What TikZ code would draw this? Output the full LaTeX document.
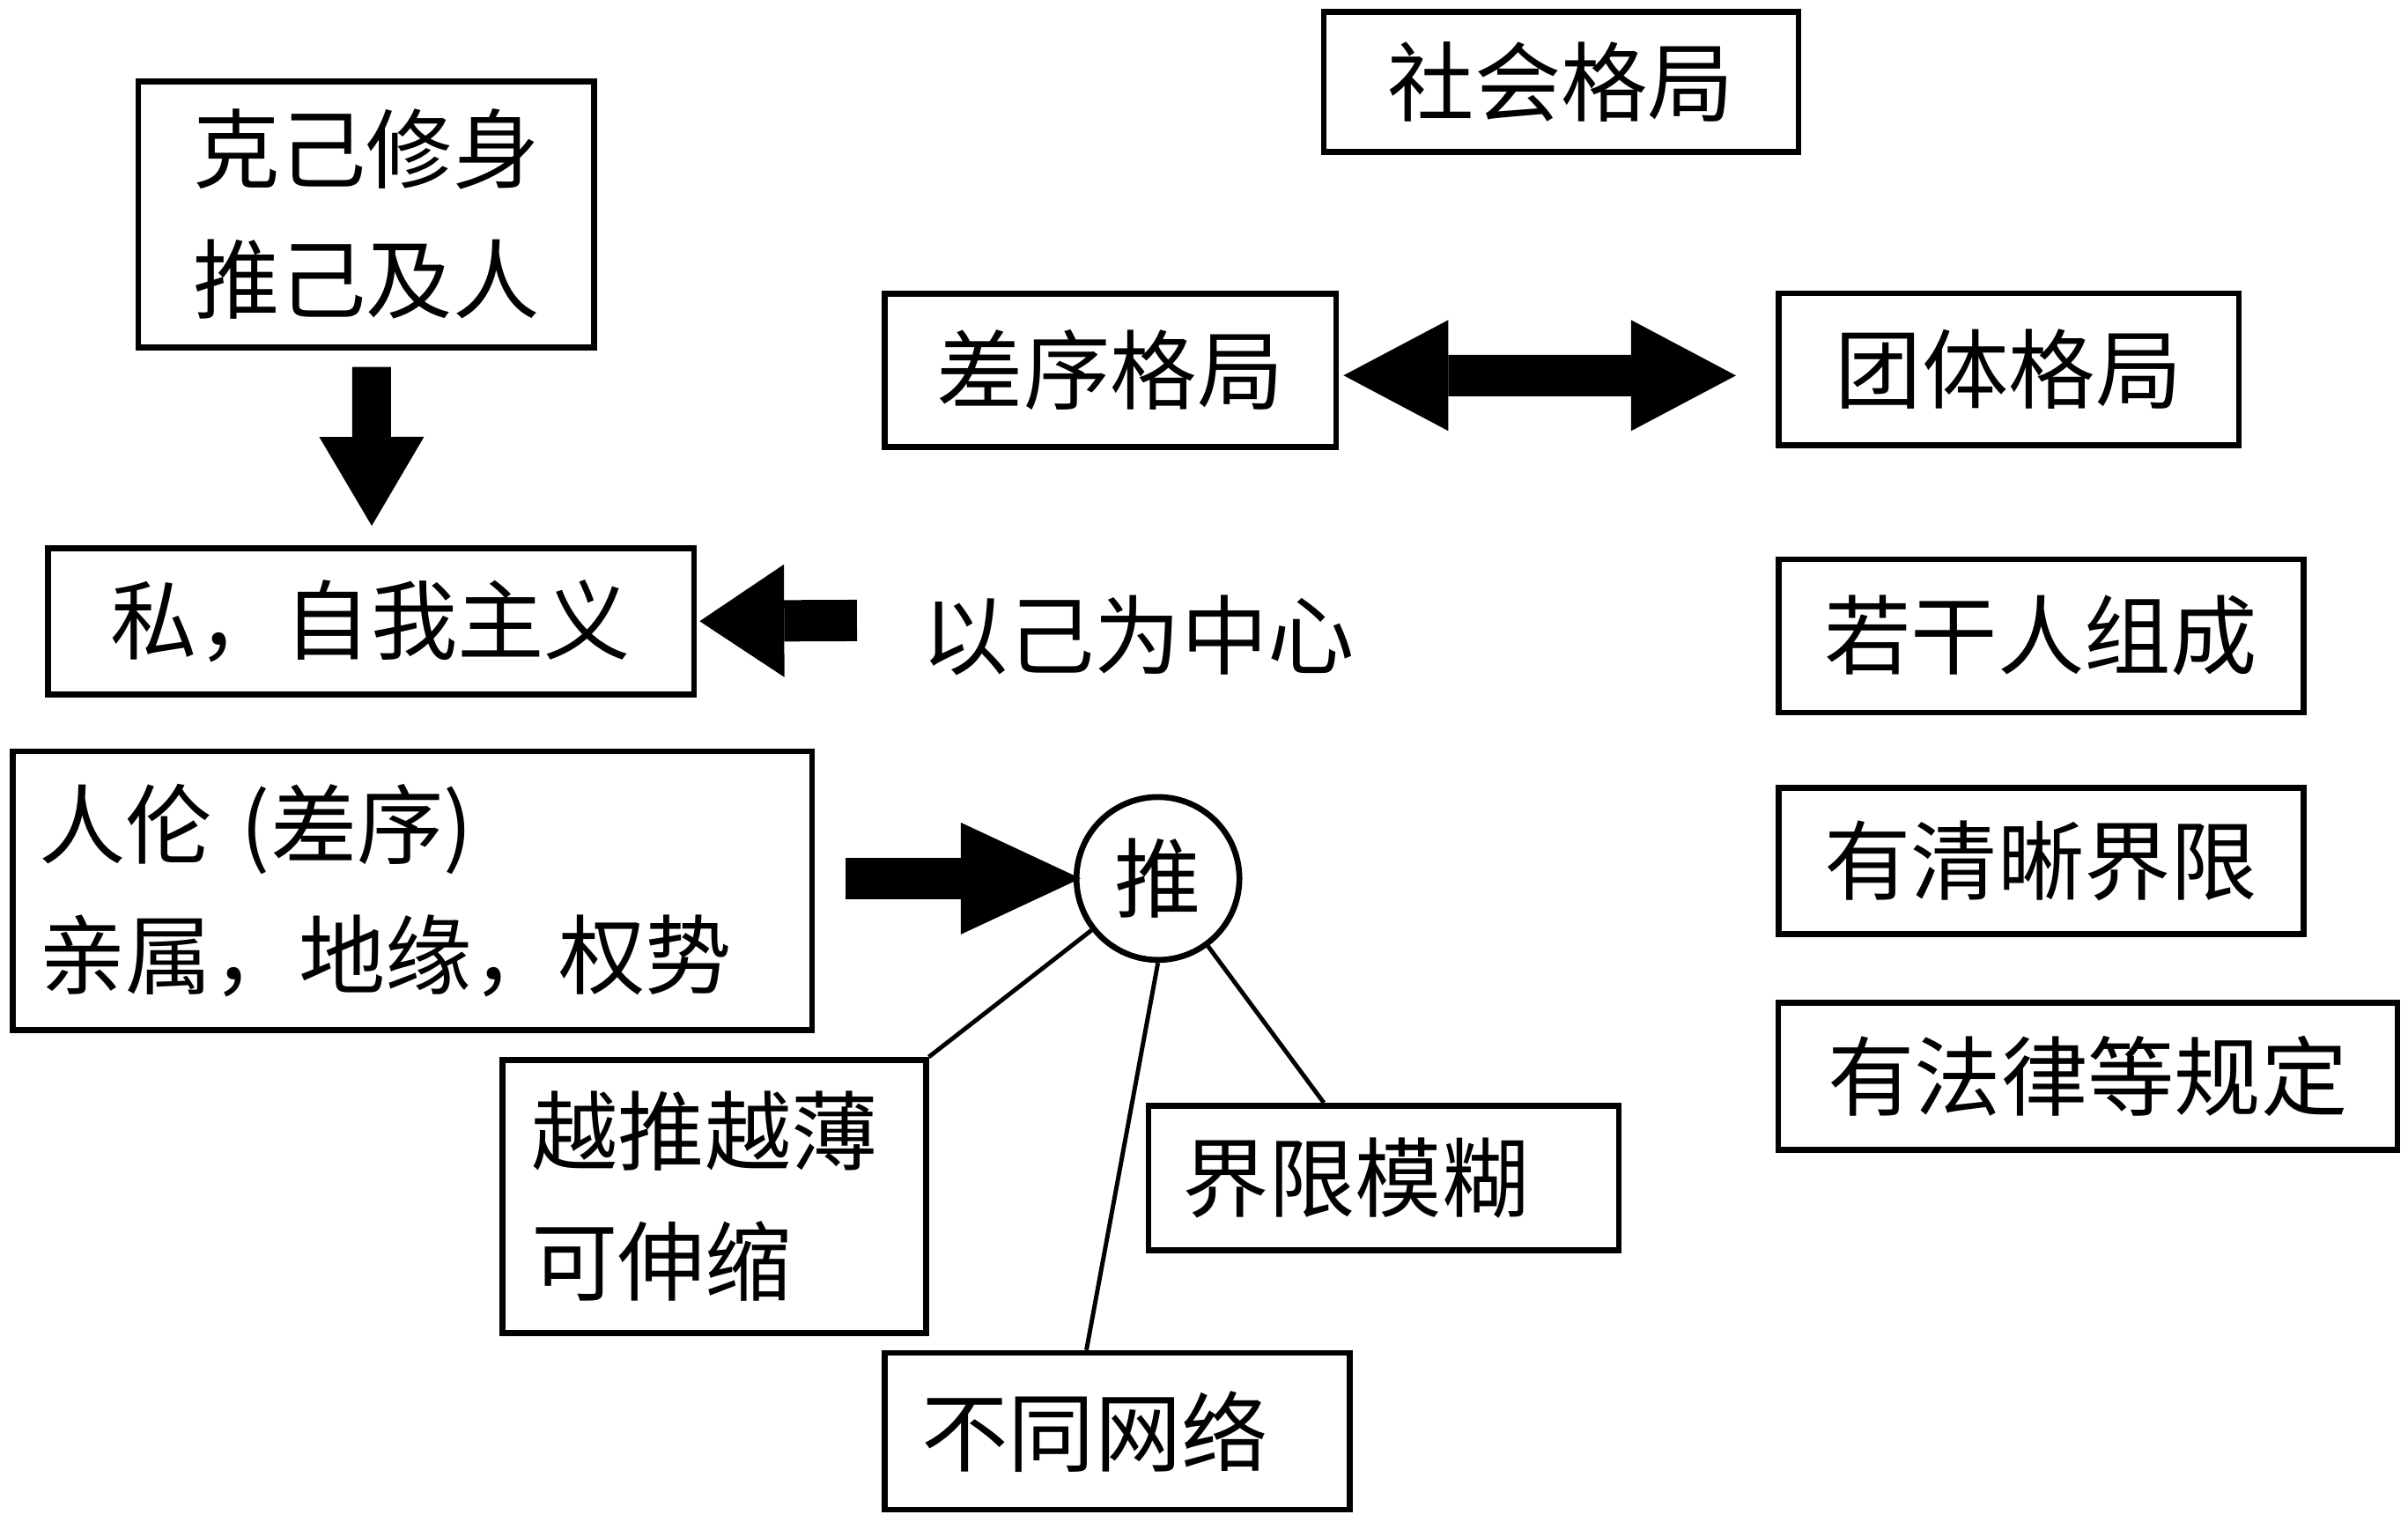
\documentclass[tikz,border=0pt]{standalone}
\usepackage{fontspec}
\setmainfont{Noto Sans CJK SC}
\usetikzlibrary{arrows.meta}
\begin{document}
\begin{tikzpicture}[x=0.017436cm, y=-0.017436cm,
  font=\fontsize{28}{42}\selectfont,
  box/.style={draw, line width=1.9pt, inner sep=0pt, align=center},
  lbox/.style={box, align=left},
  fat/.style={-{Triangle[line width=0pt 0 0, #1]}},
  link/.style={line width=1.4pt}]
  \useasboundingbox (0,0) rectangle (1568,991);
  % left side
  \node[box, minimum width=5.18cm, minimum height=3.02cm] (kj) at (238.5,139.5) {克己修身\\推己及人};
  \node[box, minimum width=7.34cm, minimum height=1.66cm] (si) at (241.5,404.5) {私，自我主义};
  \node (ego) at (741,414) {以己为中心};
  \node[lbox, text width=8.48cm, inner xsep=0.3cm, minimum height=3.17cm] (rl) at (268.5,580) {人伦\,\,(差序)\\亲属，地缘，权势};
  \node[draw, circle, line width=1.9pt, minimum size=1.85cm, inner sep=0pt] (tui) at (754,572) {推};
  \node[lbox, text width=4.15cm, inner xsep=0.33cm, minimum height=3.10cm] (yt) at (465,779) {越推越薄\\可伸缩};
  \node[lbox, text width=4.58cm, inner xsep=0.38cm, minimum height=1.64cm] (jx) at (901,767) {界限模糊};
  \node[lbox, text width=4.44cm, inner xsep=0.42cm, minimum height=1.78cm] (bt) at (727.5,932) {不同网络};
  % top and right side
  \node[box, minimum width=5.39cm, minimum height=1.59cm] (sh) at (1016.5,53.5) {社会格局};
  \node[box, minimum width=5.13cm, minimum height=1.74cm] (cx) at (723,241) {差序格局};
  \node[box, minimum width=5.23cm, minimum height=1.73cm] (tt) at (1308,240.5) {团体格局};
  \node[box, minimum width=5.96cm, minimum height=1.74cm] (rg) at (1329,414) {若干人组成};
  \node[box, minimum width=5.96cm, minimum height=1.66cm] (qx) at (1329,560.5) {有清晰界限};
  \node[box, minimum width=7.03cm, minimum height=1.67cm] (fl) at (1359.5,701) {有法律等规定};
  % block arrows
  \draw[fat={width=1.19cm, length=1.01cm}, line width=0.44cm, shorten <=0.19cm, shorten >=0.22cm]
    ([xshift=0.06cm]kj.south) -- ([xshift=0.01cm]si.north);
  \coordinate (pin) at (558,404);
  \draw[fat={width=1.28cm, length=0.96cm}, line width=0.47cm, shorten >=0.03cm] (pin) -- (si.east);
  \draw[fat={width=1.27cm, length=1.36cm}, line width=0.47cm, shorten <=0.35cm, shorten >=-0.08cm]
    (rl.east |- tui.west) -- (tui.west);
  \draw[{Triangle[line width=0pt 0 0, width=1.26cm, length=1.19cm]}-{Triangle[line width=0pt 0 0, width=1.26cm, length=1.19cm]},
    line width=0.47cm, shorten <=0.05cm, shorten >=0.45cm]
    ([yshift=-0.06cm]cx.east) -- ([yshift=-0.07cm]tt.west);
  % thin links
  \draw[link] (tui) -- (yt.north east);
  \draw[link] (tui.south) -- ([xshift=-0.35cm]bt.north);
  \draw[link] (tui) -- ([xshift=-0.68cm]jx.north);
\end{tikzpicture}
\end{document}
